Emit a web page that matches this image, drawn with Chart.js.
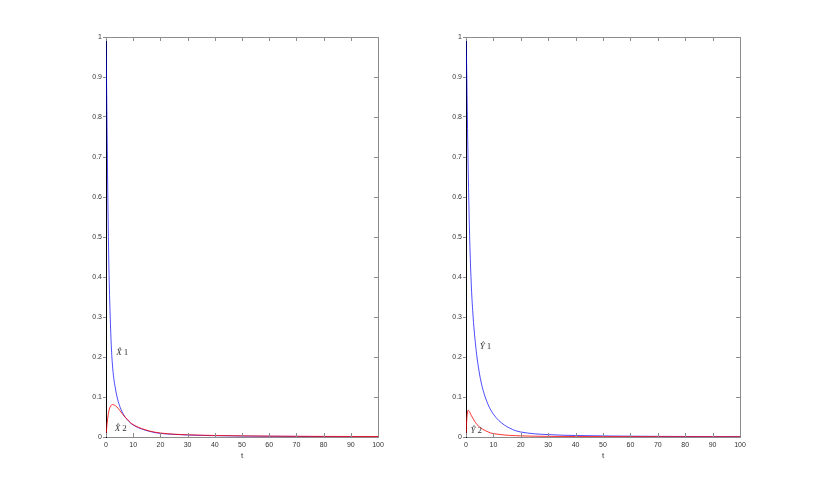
<!DOCTYPE html>
<html lang="en">
<head>
    <meta charset="UTF-8">
    <title>X and Y decay over t</title>
    <script src="https://cdn.jsdelivr.net/npm/chart.js"></script>
    <style>
        body { margin: 0; background-color: #fff; }
        .panel { position: absolute; top: 0; height: 491px; }
        #leftPanel { left: 0; width: 408px; }
        #rightPanel { left: 408px; width: 409px; }
    </style>
</head>
<body>
    <div class="panel" id="leftPanel"><canvas id="leftChart" width="408" height="491"></canvas></div>
    <div class="panel" id="rightPanel"><canvas id="rightChart" width="409" height="491"></canvas></div>

    <script>
        // time grid shared by all four curves
        const tValues = [0, 0.25, 0.5, 0.75, 1, 1.25, 1.5, 2, 2.5, 3, 3.5, 4, 5, 6, 7, 8, 9, 10,
                         12, 14, 16, 18, 20, 25, 30, 35, 40, 50, 60, 70, 80, 90, 100];

        // left panel
        const x1Values = [1, 0.86, 0.70, 0.56, 0.45, 0.37, 0.31, 0.22, 0.17, 0.14, 0.12, 0.102, 0.078, 0.062, 0.05, 0.042, 0.035, 0.03,
                          0.023, 0.018, 0.014, 0.011, 0.009, 0.0065, 0.005, 0.004, 0.0033, 0.0024, 0.0018, 0.0014, 0.0011, 0.0009, 0.0008];
        const x2Values = [0, 0.022, 0.04, 0.053, 0.063, 0.07, 0.075, 0.08, 0.081, 0.08, 0.078, 0.075, 0.067, 0.058, 0.05, 0.043, 0.036, 0.031,
                          0.024, 0.019, 0.015, 0.012, 0.01, 0.007, 0.0055, 0.0045, 0.0038, 0.0028, 0.0022, 0.0018, 0.0015, 0.0013, 0.0012];

        // right panel
        const y1Values = [1, 0.92, 0.80, 0.69, 0.60, 0.52, 0.46, 0.37, 0.31, 0.265, 0.23, 0.2, 0.155, 0.123, 0.1, 0.082, 0.068, 0.057,
                          0.041, 0.03, 0.022, 0.016, 0.0125, 0.008, 0.006, 0.0045, 0.0037, 0.0027, 0.002, 0.0016, 0.0013, 0.0011, 0.001];
        const y2Values = [0, 0.04, 0.06, 0.067, 0.066, 0.063, 0.06, 0.053, 0.047, 0.041, 0.036, 0.031, 0.025, 0.02, 0.016, 0.013, 0.01, 0.0085,
                          0.0065, 0.005, 0.004, 0.0033, 0.0028, 0.002, 0.0016, 0.0014, 0.0012, 0.001, 0.0009, 0.0008, 0.0007, 0.0007, 0.0006];

        const xTickStep = 10;
        const yTickStep = 0.1;

        const toPoints = values => tValues.map((t, i) => ({ x: t, y: values[i] }));

        // MATLAB-like box: gray top/right edges, short inward ticks, curve labels
        const boxPlugin = {
            id: 'matlabBox',
            afterDraw(chart, args, opts) {
                const ctx = chart.ctx;
                const a = chart.chartArea;
                const xs = chart.scales.x, ys = chart.scales.y;
                ctx.save();
                ctx.strokeStyle = '#8c8c8c';
                ctx.lineWidth = 1;
                ctx.beginPath();
                ctx.moveTo(a.left, a.top + 0.5);
                ctx.lineTo(a.right + 0.5, a.top + 0.5);
                ctx.lineTo(a.right + 0.5, a.bottom);
                ctx.stroke();

                ctx.beginPath();
                xs.ticks.forEach((tk, i) => {
                    const px = Math.round(xs.getPixelForTick(i)) + 0.5;
                    ctx.moveTo(px, a.top); ctx.lineTo(px, a.top + 4);
                    ctx.moveTo(px, a.bottom); ctx.lineTo(px, a.bottom - 4);
                });
                ys.ticks.forEach((tk, i) => {
                    const py = Math.round(ys.getPixelForTick(i)) + 0.5;
                    ctx.moveTo(a.right, py); ctx.lineTo(a.right - 4, py);
                });
                ctx.stroke();

                ctx.fillStyle = '#333';
                ctx.textBaseline = 'middle';
                (opts.labels || []).forEach(lb => {
                    const px = xs.getPixelForValue(lb.t);
                    const py = ys.getPixelForValue(lb.v);
                    ctx.font = 'italic 9px "Liberation Serif"';
                    ctx.fillText(lb.letter, px, py);
                    const w = ctx.measureText(lb.letter).width;
                    ctx.font = '9px "Liberation Serif"';
                    ctx.fillText(lb.index, px + w + 2, py);
                });
                ctx.restore();
            }
        };

        function makePanel(canvasId, upper, lower, yAxisWidth, rightPad, labels) {
            return new Chart(document.getElementById(canvasId), {
                type: 'line',
                data: {
                    datasets: [
                        { data: toPoints(lower), borderColor: 'rgba(255, 0, 0, 0.8)', borderWidth: 1, pointRadius: 0,
                          cubicInterpolationMode: 'monotone', order: 1 },
                        { data: toPoints(upper), borderColor: 'rgba(0, 0, 255, 0.7)', borderWidth: 1, pointRadius: 0,
                          cubicInterpolationMode: 'monotone', order: 2 }
                    ]
                },
                options: {
                    responsive: false,
                    animation: false,
                    layout: { padding: { top: 37, right: rightPad, bottom: 26, left: 0 } },
                    plugins: { legend: { display: false }, tooltip: { enabled: false }, matlabBox: { labels: labels } },
                    scales: {
                        x: {
                            type: 'linear', min: 0, max: 100,
                            ticks: { stepSize: xTickStep, color: '#333', padding: 4, maxRotation: 0,
                                     font: { family: 'Liberation Sans', size: 7 } },
                            grid: { display: false, drawTicks: false },
                            border: { color: '#8c8c8c', width: 1 },
                            title: { display: true, text: 't', color: '#333', padding: { top: 0, bottom: 4 },
                                     font: { family: 'Liberation Sans', size: 8 } },
                            afterFit: s => { s.height = 28; }
                        },
                        y: {
                            min: 0, max: 1,
                            ticks: { stepSize: yTickStep, color: '#333', padding: 1,
                                     font: { family: 'Liberation Sans', size: 7 },
                                     callback: v => String(Number(v.toFixed(1))) },
                            grid: { drawOnChartArea: false, tickLength: 3, color: '#8c8c8c' },
                            border: { color: '#000', width: 1 },
                            afterFit: s => { s.width = yAxisWidth; }
                        }
                    }
                },
                plugins: [boxPlugin]
            });
        }

        makePanel('leftChart', x1Values, x2Values, 106, 30, [
            { letter: 'X\u0302', index: '1', t: 3.8, v: 0.21 },
            { letter: 'X\u0302', index: '2', t: 3.2, v: 0.02 }
        ]);
        makePanel('rightChart', y1Values, y2Values, 58, 77, [
            { letter: 'Y\u0302', index: '1', t: 5.0, v: 0.225 },
            { letter: 'Y\u0302', index: '2', t: 1.6, v: 0.015 }
        ]);
    </script>
</body>
</html>
